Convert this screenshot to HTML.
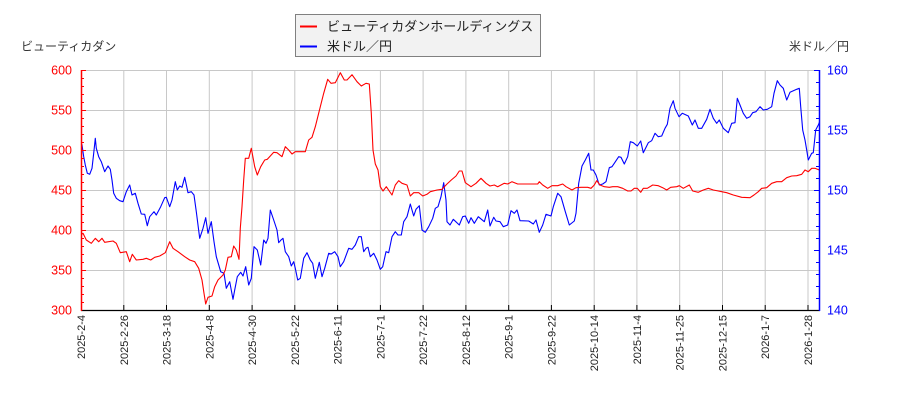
<!DOCTYPE html>
<html><head><meta charset="utf-8"><style>
html,body{margin:0;padding:0;background:#fff;}
svg{display:block;font-family:"Liberation Sans","Noto Sans CJK JP",sans-serif;}
</style></head><body>
<svg width="900" height="400" viewBox="0 0 900 400" xmlns="http://www.w3.org/2000/svg">
<rect width="900" height="400" fill="#fff"/>
<g stroke="#c8c8c8" stroke-width="1">
<line x1="81" y1="70.5" x2="820" y2="70.5"/>
<line x1="81" y1="110.5" x2="820" y2="110.5"/>
<line x1="81" y1="150.5" x2="820" y2="150.5"/>
<line x1="81" y1="190.5" x2="820" y2="190.5"/>
<line x1="81" y1="230.5" x2="820" y2="230.5"/>
<line x1="81" y1="270.5" x2="820" y2="270.5"/>
<line x1="123.8" y1="70" x2="123.8" y2="310"/>
<line x1="166.5" y1="70" x2="166.5" y2="310"/>
<line x1="209.3" y1="70" x2="209.3" y2="310"/>
<line x1="252.1" y1="70" x2="252.1" y2="310"/>
<line x1="294.8" y1="70" x2="294.8" y2="310"/>
<line x1="337.6" y1="70" x2="337.6" y2="310"/>
<line x1="380.4" y1="70" x2="380.4" y2="310"/>
<line x1="423.1" y1="70" x2="423.1" y2="310"/>
<line x1="465.9" y1="70" x2="465.9" y2="310"/>
<line x1="508.7" y1="70" x2="508.7" y2="310"/>
<line x1="551.4" y1="70" x2="551.4" y2="310"/>
<line x1="594.2" y1="70" x2="594.2" y2="310"/>
<line x1="636.9" y1="70" x2="636.9" y2="310"/>
<line x1="679.7" y1="70" x2="679.7" y2="310"/>
<line x1="722.5" y1="70" x2="722.5" y2="310"/>
<line x1="765.2" y1="70" x2="765.2" y2="310"/>
<line x1="808" y1="70" x2="808" y2="310"/>
</g>
<clipPath id="c"><rect x="81" y="69" width="739" height="242"/></clipPath>
<g clip-path="url(#c)" fill="none" stroke-width="1.1" stroke-linejoin="round">
<polyline stroke="#0000ff" points="80.7,141.7 82,145 83.7,156.7 85.3,165 87.3,173.3 89.7,174.3 92,168.3 93.7,153.3 95.3,138.3 96.3,148.3 98.7,156.7 101.3,161.7 104.7,171.7 108,166 110.3,169.3 112,180 113.7,193.3 116.3,198.3 119.7,200.7 123,201.7 126.3,191.7 129.7,185 132,195 135.3,193.3 138,203.3 141.3,214 144.7,214.3 147.3,225.7 149.7,216.7 154,211.7 156.3,215 160.7,206.7 164.7,197.7 166.3,197.3 169.7,206.7 172,200 175.3,181.7 177.3,190 179.7,186 182,187.3 184.7,177.3 188,192.7 191.3,191.7 194,195 196.3,211.7 199.7,238.3 203,228.3 205.7,217.7 208,233.3 211.3,221.7 214,241.7 216.3,256.7 220.7,271.7 224,273.3 226.3,288.3 229.7,281.7 233,299.3 234.7,290 237.3,276.7 240.7,272.3 243,276 245.7,266.7 248.7,285 251.3,278.3 254,246.7 257.3,250 260.7,265 262.3,251.7 263.7,240 266,243.3 268,238.3 270.3,210 273.7,220 277,230 278.7,242.7 281,240 283,238.3 285.3,251.7 288.7,256.7 291.3,266 293.7,261.7 295.3,268.3 297.7,280 300.3,278.3 303.7,258.3 307,252.7 310.3,260 312.7,263.3 315.3,278.3 319.3,262.3 322,276.7 324.7,268.3 328.7,253.3 331.3,254 334.7,251.7 338,256.7 340.3,266.7 343.7,261.7 348.7,248.3 352,249.3 355.3,245 358.7,236.7 361.3,236.7 363.7,251.7 366,248.3 368,247.3 370.3,256.7 373.7,253.3 377,260 380.3,269.3 382.7,266.7 386,251.7 388.7,252.7 392,236.7 395.3,231.7 398,235 401.3,235 403.7,221.7 407,216.7 410.3,204 413.7,216 416,209.3 419.3,205.7 422,230 425.3,232.3 428.7,226.7 432.7,218.3 435.3,208.3 438,206.7 441,196.7 443.7,182.7 446,200 447,221.7 450,225 453.3,219.3 459.3,225 462.7,216.7 465.3,216 468.7,223.3 471,217.7 474.3,223.3 478.3,216.7 484.3,221.7 487.7,210 490,226 493.7,217.3 496,221 500,221.7 503.3,226.7 507.7,225 511,210.7 514.3,213.3 517,210 520,220.7 528.7,221 533.3,224 536,220 539.3,232.3 542.7,225 546,214.3 551,216 553.3,206.7 557.7,193.3 561,196.7 565.3,211.7 569.3,225 574.3,221 576,213.3 578.7,183.3 582,166 585.3,160 588.7,153.3 591,170 593.3,170 596,175 599.3,185 602.7,184 606,181.7 609.3,167.7 612,166.7 614.3,163.3 618.7,156.7 621,157.3 624.3,164 627.7,156.7 630.3,141.7 633.3,142.7 637.3,146 640.7,141 643.3,152.7 648.3,142.7 651.7,140.7 655,133.3 658.3,136.7 661.7,136 665,128.3 667.3,124.3 670,108.3 673.3,100.7 675,108.3 679,116.7 682.3,113.3 688.3,116 692.3,125 695,120 698.3,128.3 701.7,128.3 706.7,119.3 710,109.3 713.3,118.3 716.7,123.3 719.3,120 723.3,128.3 728.3,132.7 731.7,123.3 735,122.7 737.3,98.3 740,105 743.3,113.3 746.7,118.3 750,116.7 752.7,112.7 756,111.7 760,106.7 763.3,110 767.3,109.3 771.7,106.7 774,93.3 777.3,80.7 780,85 783.3,88.3 786.7,100 790,92.3 796.7,89.3 799.3,88.3 800.7,106.7 802.7,130 805,140 806.7,150 808.3,160 811.7,153.3 813.3,152.7 815.7,130 818.3,125 819.7,121.7"/>
<polyline stroke="#ff0000" points="80.7,235 83,233.3 86.3,240 91.3,243.3 95.3,238.3 98.7,241.7 102,238.3 104.7,242.3 113,241 116.3,243.3 120.3,252.7 126.3,251.7 129.7,261.7 132.3,254.3 136.3,260 143,259.3 146.3,258.3 150.7,260 154.7,257.3 159.7,256 165.3,252.7 169.7,241.7 173,248.3 178,251.7 184.7,256.7 189.7,260 194.7,261.7 198.7,268.3 202,280 204,293.3 205.7,304 208,297.3 212,296 214.7,286.7 218,280 223,275 225.3,270 228,257.3 231.3,256.7 233.7,246 236.3,250 239,259.3 240.3,228.3 242,206.7 243.7,180 245.3,158.3 248.7,158.3 251.3,148.3 254.7,166.7 257.3,175 260.7,166.7 264.7,160 267.3,159.3 270.3,156 273.7,152.3 277,152.7 282,156.7 285.3,146.7 288.7,150 292,154 295.3,151.7 305.3,151.7 308.7,140 312,137.3 315.3,126.7 320.3,106.7 323.7,93.3 327.7,79.3 331,83.3 335.3,82.7 340.3,72.7 344.3,80 347,80 352,74.7 357,81.7 361.3,86 366,83.3 369.3,84 371.3,113.3 373,150 375.3,164 378,170 380.3,186.7 383,191 386.3,186.7 392,195 395.3,185 398.7,180.7 402,183.3 407,185 410.3,196 413.7,192.7 418.7,192.7 422.7,196 427,194.3 430.3,191.7 437,190 442,189.3 447,184 451.3,180 456,176 459.3,171 462,171 465.3,182.7 471,186.7 476,183.3 481,178.3 486,183.3 490,186 494.3,185 497.7,186.7 504.3,183.3 507.7,184 512,181.7 517.7,184 537.7,184 539.3,181.7 542.7,185 547.7,188.3 552,185.7 557.7,185.7 562.7,184 566,186.7 572,190 576,187.7 581,187.3 587.7,187.3 591,188.3 594.3,185 596.7,180.7 600,185 604.3,186.7 609.3,187.3 612.7,186.7 617.7,186.7 622.7,188.3 627.7,191 631,191 634.3,188.3 637.3,188.3 640.7,192.3 643.3,188.3 647.3,188.3 652.7,185 658.3,185.7 662.7,187.7 666.7,190 670.7,187.3 676.7,186.7 679.3,185.7 683.3,188.3 689.3,185 692.7,191 698.3,192.3 703.3,190 708.3,188.3 713.3,190 718.3,191 721.7,191.7 726.7,192.7 733.3,195 741.7,197.3 750,197.7 754,195 758.3,191.7 761.7,188.3 766.7,187.7 771.7,183.3 776.7,181.7 781.7,181.7 786.7,177.7 791.7,176 796.7,175.7 801.7,174.3 805,170 808.3,171.7 811.7,168.3 815,168.3 819.3,170"/>
</g>
<!-- axes -->
<line x1="81" y1="310.5" x2="820" y2="310.5" stroke="#000" stroke-width="1.2"/>
<g stroke="#000" stroke-width="1">
<line x1="123.8" y1="305" x2="123.8" y2="310"/><line x1="166.5" y1="305" x2="166.5" y2="310"/><line x1="209.3" y1="305" x2="209.3" y2="310"/><line x1="252.1" y1="305" x2="252.1" y2="310"/><line x1="294.8" y1="305" x2="294.8" y2="310"/><line x1="337.6" y1="305" x2="337.6" y2="310"/><line x1="380.4" y1="305" x2="380.4" y2="310"/><line x1="423.1" y1="305" x2="423.1" y2="310"/><line x1="465.9" y1="305" x2="465.9" y2="310"/><line x1="508.7" y1="305" x2="508.7" y2="310"/><line x1="551.4" y1="305" x2="551.4" y2="310"/><line x1="594.2" y1="305" x2="594.2" y2="310"/><line x1="636.9" y1="305" x2="636.9" y2="310"/><line x1="679.7" y1="305" x2="679.7" y2="310"/><line x1="722.5" y1="305" x2="722.5" y2="310"/><line x1="765.2" y1="305" x2="765.2" y2="310"/><line x1="808" y1="305" x2="808" y2="310"/>
</g>
<line x1="81.5" y1="70" x2="81.5" y2="311" stroke="#ff0000" stroke-width="1.5"/>
<g stroke="#ff0000" stroke-width="1">
<line x1="81" y1="70.5" x2="86" y2="70.5"/><line x1="81" y1="78.5" x2="84" y2="78.5"/><line x1="81" y1="86.5" x2="84" y2="86.5"/><line x1="81" y1="94.5" x2="84" y2="94.5"/><line x1="81" y1="102.5" x2="84" y2="102.5"/>
<line x1="81" y1="110.5" x2="86" y2="110.5"/><line x1="81" y1="118.5" x2="84" y2="118.5"/><line x1="81" y1="126.5" x2="84" y2="126.5"/><line x1="81" y1="134.5" x2="84" y2="134.5"/><line x1="81" y1="142.5" x2="84" y2="142.5"/>
<line x1="81" y1="150.5" x2="86" y2="150.5"/><line x1="81" y1="158.5" x2="84" y2="158.5"/><line x1="81" y1="166.5" x2="84" y2="166.5"/><line x1="81" y1="174.5" x2="84" y2="174.5"/><line x1="81" y1="182.5" x2="84" y2="182.5"/>
<line x1="81" y1="190.5" x2="86" y2="190.5"/><line x1="81" y1="198.5" x2="84" y2="198.5"/><line x1="81" y1="206.5" x2="84" y2="206.5"/><line x1="81" y1="214.5" x2="84" y2="214.5"/><line x1="81" y1="222.5" x2="84" y2="222.5"/>
<line x1="81" y1="230.5" x2="86" y2="230.5"/><line x1="81" y1="238.5" x2="84" y2="238.5"/><line x1="81" y1="246.5" x2="84" y2="246.5"/><line x1="81" y1="254.5" x2="84" y2="254.5"/><line x1="81" y1="262.5" x2="84" y2="262.5"/>
<line x1="81" y1="270.5" x2="86" y2="270.5"/><line x1="81" y1="278.5" x2="84" y2="278.5"/><line x1="81" y1="286.5" x2="84" y2="286.5"/><line x1="81" y1="294.5" x2="84" y2="294.5"/><line x1="81" y1="302.5" x2="84" y2="302.5"/>
</g>
<line x1="819.5" y1="70" x2="819.5" y2="311" stroke="#0000ff" stroke-width="1.5"/>
<g stroke="#0000ff" stroke-width="1">
<line x1="814" y1="70.5" x2="820" y2="70.5"/><line x1="816" y1="82.5" x2="820" y2="82.5"/><line x1="816" y1="94.5" x2="820" y2="94.5"/><line x1="816" y1="106.5" x2="820" y2="106.5"/><line x1="816" y1="118.5" x2="820" y2="118.5"/>
<line x1="814" y1="130.5" x2="820" y2="130.5"/><line x1="816" y1="142.5" x2="820" y2="142.5"/><line x1="816" y1="154.5" x2="820" y2="154.5"/><line x1="816" y1="166.5" x2="820" y2="166.5"/><line x1="816" y1="178.5" x2="820" y2="178.5"/>
<line x1="814" y1="190.5" x2="820" y2="190.5"/><line x1="816" y1="202.5" x2="820" y2="202.5"/><line x1="816" y1="214.5" x2="820" y2="214.5"/><line x1="816" y1="226.5" x2="820" y2="226.5"/><line x1="816" y1="238.5" x2="820" y2="238.5"/>
<line x1="814" y1="250.5" x2="820" y2="250.5"/><line x1="816" y1="262.5" x2="820" y2="262.5"/><line x1="816" y1="274.5" x2="820" y2="274.5"/><line x1="816" y1="286.5" x2="820" y2="286.5"/><line x1="816" y1="298.5" x2="820" y2="298.5"/>
</g>
<!-- left labels -->
<g fill="#ff0000" font-size="12.5" text-anchor="end">
<text x="72" y="74.5">600</text><text x="72" y="114.5">550</text><text x="72" y="154.5">500</text><text x="72" y="194.5">450</text><text x="72" y="234.5">400</text><text x="72" y="274.5">350</text><text x="72" y="314.5">300</text>
</g>
<g fill="#0000ff" font-size="12.5">
<text x="827" y="74.5">160</text><text x="827" y="134.5">155</text><text x="827" y="194.5">150</text><text x="827" y="254.5">145</text><text x="827" y="314.5">140</text>
</g>
<text x="21" y="50.5" font-size="12" fill="#333">ビューティカダン</text>
<text x="849" y="50.5" font-size="12" fill="#333" text-anchor="end">米ドル／円</text>
<!-- x labels -->
<g font-size="11" fill="#222" text-anchor="end">
<text transform="translate(85,315) rotate(-90)">2025-2-4</text>
<text transform="translate(127.8,315) rotate(-90)">2025-2-26</text>
<text transform="translate(170.5,315) rotate(-90)">2025-3-18</text>
<text transform="translate(213.3,315) rotate(-90)">2025-4-8</text>
<text transform="translate(256.1,315) rotate(-90)">2025-4-30</text>
<text transform="translate(298.8,315) rotate(-90)">2025-5-22</text>
<text transform="translate(341.6,315) rotate(-90)">2025-6-11</text>
<text transform="translate(384.4,315) rotate(-90)">2025-7-1</text>
<text transform="translate(427.1,315) rotate(-90)">2025-7-22</text>
<text transform="translate(469.9,315) rotate(-90)">2025-8-12</text>
<text transform="translate(512.7,315) rotate(-90)">2025-9-1</text>
<text transform="translate(555.4,315) rotate(-90)">2025-9-22</text>
<text transform="translate(598.2,315) rotate(-90)">2025-10-14</text>
<text transform="translate(640.9,315) rotate(-90)">2025-11-4</text>
<text transform="translate(683.7,315) rotate(-90)">2025-11-25</text>
<text transform="translate(726.5,315) rotate(-90)">2025-12-15</text>
<text transform="translate(769.2,315) rotate(-90)">2026-1-7</text>
<text transform="translate(812,315) rotate(-90)">2026-1-28</text>
</g>
<!-- legend -->
<rect x="295.5" y="14.5" width="245" height="42" fill="#f2f2f2" stroke="#808080" stroke-width="1"/>
<line x1="300" y1="26.5" x2="317" y2="26.5" stroke="#ff0000" stroke-width="2"/>
<line x1="300" y1="46.5" x2="317" y2="46.5" stroke="#0000ff" stroke-width="2"/>
<text x="327" y="31" font-size="13" fill="#222">ビューティカダンホールディングス</text>
<text x="327" y="51" font-size="13" fill="#222">米ドル／円</text>
</svg>
</body></html>
